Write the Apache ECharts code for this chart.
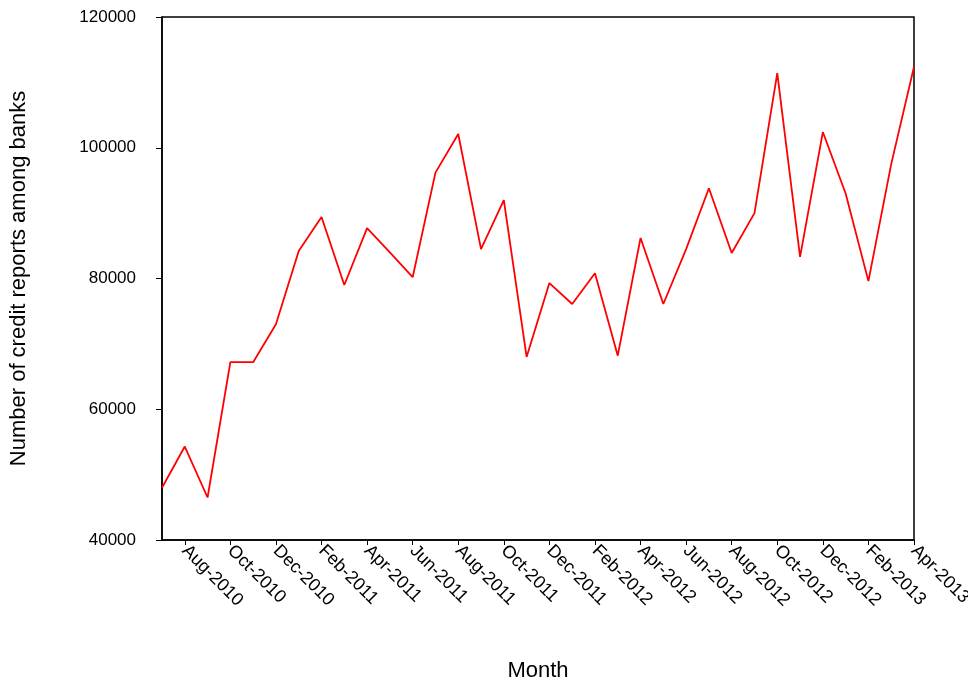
<!DOCTYPE html>
<html>
<head>
  <meta charset="UTF-8">
  <script src="https://cdn.jsdelivr.net/npm/echarts@6/dist/echarts.min.js"></script>
  <style>
    html,body{margin:0;padding:0;background:#fff;}
    #main{width:968px;height:684px;}
  </style>
</head>
<body>
<div id="main"></div>
<script>
  var months = ['Jul-2010','Aug-2010','Sep-2010','Oct-2010','Nov-2010','Dec-2010','Jan-2011','Feb-2011','Mar-2011','Apr-2011','May-2011','Jun-2011',
    'Jul-2011','Aug-2011','Sep-2011','Oct-2011','Nov-2011','Dec-2011','Jan-2012','Feb-2012','Mar-2012','Apr-2012','May-2012','Jun-2012',
    'Jul-2012','Aug-2012','Sep-2012','Oct-2012','Nov-2012','Dec-2012','Jan-2013','Feb-2013','Mar-2013','Apr-2013'];
  var reports = [48000,54300,46500,67200,67200,73000,84200,89400,79000,87700,84000,80200,
    96200,102100,84500,92000,68000,79300,76100,80800,68200,86200,76100,84500,
    93800,83900,90000,111400,83300,102400,93000,79600,97500,112400];
  var yTicks = [40000,60000,80000,100000,120000];

  var chart = echarts.init(document.getElementById('main'));
  var txt = {color:'#000',fontFamily:'Liberation Sans, Arial, sans-serif'};
  chart.setOption({
    animation:false,
    grid:{left:162,right:54,top:17,bottom:144,outerBoundsMode:'none',containLabel:false,
      show:true,borderColor:'#000',borderWidth:1.5},
    xAxis:{
      type:'category',data:months,boundaryGap:false,
      name:'Month',nameLocation:'middle',nameGap:120,
      nameTextStyle:Object.assign({fontSize:22},txt),
      axisLine:{lineStyle:{color:'#000',width:1.5}},
      axisTick:{interval:function(i){return i%2===1;},length:5,lineStyle:{color:'#000'}},
      axisLabel:Object.assign({interval:function(i){return i%2===1;},rotate:-45,fontSize:18,margin:8},txt),
      splitLine:{show:false}
    },
    yAxis:{
      type:'value',min:yTicks[0],max:yTicks[yTicks.length-1],interval:20000,
      name:'Number of credit reports among banks',nameLocation:'middle',nameGap:132,
      nameTextStyle:Object.assign({fontSize:22},txt),
      axisLine:{show:true,lineStyle:{color:'#000',width:1.5}},
      axisTick:{show:true,length:6,lineStyle:{color:'#000'}},
      axisLabel:Object.assign({fontSize:17,margin:26,formatter:function(v){return String(v);}},txt),
      splitLine:{show:false}
    },
    series:[{
      type:'line',data:reports,symbol:'none',
      lineStyle:{color:'#ff0000',width:1.8}
    }]
  });
</script>
</body>
</html>
